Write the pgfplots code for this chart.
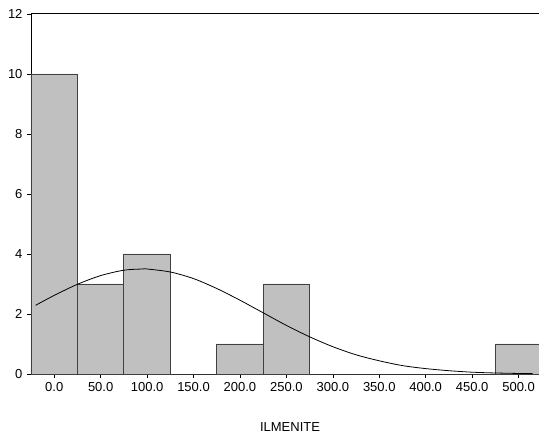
\documentclass[border=0pt]{standalone}
\usepackage{fontspec}
\setmainfont{Liberation Sans}
\usepackage{pgfplots}
\pgfplotsset{compat=1.18}
\definecolor{barfill}{RGB}{192,192,192}
\begin{document}
\fontsize{13bp}{15bp}\selectfont
\begin{tikzpicture}
\path[use as bounding box] (0,0) rectangle (539bp,439bp);
\begin{axis}[
  at={(31bp,65bp)}, anchor=south west,
  scale only axis, width=508bp, height=360bp,
  xmin=-25, xmax=522, ymin=0, ymax=12,
  axis lines*=left, axis line style={-, line width=0.8pt},
  clip=false,
  xtick={0,50,...,500}, ytick={0,2,...,12},
  tick align=outside, major tick length=4bp,
  tick style={black, line width=0.6pt},
  xticklabel style={/pgf/number format/fixed, /pgf/number format/fixed zerofill, /pgf/number format/precision=1, /pgf/number format/assume math mode=true, yshift=0bp},
  yticklabel style={/pgf/number format/assume math mode=true},
  ticklabel style={font=\fontsize{13bp}{15bp}\selectfont},
  xtick pos=bottom, ytick pos=left,
  xlabel={ILMENITE},
  xlabel style={at={(axis description cs:0.5,0)}, anchor=center, yshift=-53bp, xshift=5bp, font=\fontsize{13bp}{15bp}\selectfont},
]
\addplot[ybar interval, fill=barfill, draw=black!75, line width=0.8pt] coordinates {
  (-25,10) (25,3) (75,4) (125,0) (175,1) (225,3) (275,0) (325,0) (375,0) (425,0) (475,1) (525,1)
};
\addplot[black, line width=0.8pt, smooth, mark=none] coordinates {
  (-20,2.29) (0,2.62) (25,2.99) (50,3.28) (75,3.46) (95,3.50) (100,3.50) (125,3.40)
  (150,3.18) (175,2.85) (200,2.46) (225,2.04) (250,1.62) (275,1.24) (300,0.91)
  (325,0.64) (350,0.44) (375,0.28) (400,0.18) (425,0.11) (450,0.06) (475,0.034)
  (500,0.018) (515,0.012)
};
\draw[line width=1pt] (rel axis cs:0,1) -- (rel axis cs:1,1);
\end{axis}
\end{tikzpicture}
\end{document}
